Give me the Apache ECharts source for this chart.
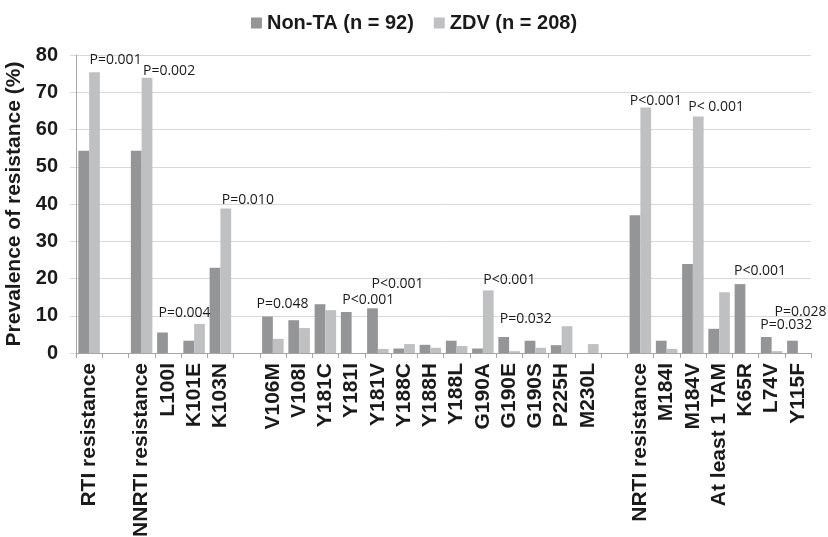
<!DOCTYPE html>
<html>
<head>
<meta charset="utf-8">
<script src="https://cdn.jsdelivr.net/npm/echarts@6/dist/echarts.min.js"></script>
<style>
  html, body { margin: 0; padding: 0; background: #fff; }
  #chart { width: 828px; height: 537px; }
</style>
</head>
<body>
<div id="chart"></div>
<script>
  // categories, blank strings are spacer columns between groups
  const categories = ['RTI resistance', '', 'NNRTI resistance', 'L100I', 'K101E', 'K103N', '',
    'V106M', 'V108I', 'Y181C', 'Y181I', 'Y181V', 'Y188C', 'Y188H', 'Y188L', 'G190A', 'G190E',
    'G190S', 'P225H', 'M230L', '', 'NRTI resistance', 'M184I', 'M184V', 'At least 1 TAM',
    'K65R', 'L74V', 'Y115F'];
  const seriesNames = ['Non-TA (n = 92)', 'ZDV (n = 208)'];
  const nonTA = [54.3, null, 54.3, 5.5, 3.3, 22.9, null, 9.8, 8.8, 13.1, 11.0, 12.0, 1.2, 2.2,
    3.3, 1.2, 4.3, 3.3, 2.1, 0, null, 37.0, 3.3, 23.9, 6.5, 18.5, 4.3, 3.3];
  const zdv = [75.4, null, 73.9, 0, 7.8, 38.8, null, 3.8, 6.7, 11.5, 0, 1.1, 2.4, 1.4,
    1.9, 16.8, 0.5, 1.4, 7.2, 2.4, null, 65.9, 1.1, 63.5, 16.3, 0, 0.5, 0];
  // p-value annotations: [category, series index, text]
  const pLabels = [
    ['RTI resistance', 1, 'P=0.001'],
    ['NNRTI resistance', 1, 'P=0.002'],
    ['L100I', 0, 'P=0.004'],
    ['K103N', 1, 'P=0.010'],
    ['V106M', 0, 'P=0.048'],
    ['Y181I', 0, 'P<0.001'],
    ['Y181V', 0, 'P<0.001'],
    ['G190A', 1, 'P<0.001'],
    ['G190E', 0, 'P=0.032'],
    ['NRTI resistance', 1, 'P<0.001'],
    ['M184V', 1, 'P< 0.001'],
    ['K65R', 0, 'P<0.001'],
    ['L74V', 0, 'P=0.032'],
    ['Y115F', 0, 'P=0.028']
  ];
  // label nudges (px), same order as pLabels
  const labelOffsets = [[-5, 0], [-4, 5], [-4, -7], [-4, 4], [-11, 0], [-4, 0], [-1, -12],
    [-5, 2], [-4, -6], [-16, 5], [-10, 3], [-6, -1], [-6, 0], [-18, -17]];

  const colors = ['#949597', '#bfc0c2'];

  function buildData(values, sIdx) {
    return values.map(function (v, i) {
      let item = { value: v };
      pLabels.forEach(function (p, k) {
        if (p[0] === categories[i] && p[1] === sIdx) {
          item.label = {
            show: true,
            position: 'top',
            align: 'left',
            distance: 5,
            offset: labelOffsets[k],
            formatter: p[2],
            color: '#1a1a1a',
            fontFamily: 'Open Sans',
            fontSize: 14
          };
        }
      });
      return item;
    });
  }

  const chart = echarts.init(document.getElementById('chart'), null, { renderer: 'canvas' });
  chart.setOption({
    animation: false,
    color: colors,
    textStyle: { fontFamily: 'Liberation Sans' },
    legend: {
      top: 8,
      left: 'center',
      icon: 'rect',
      itemWidth: 11,
      itemHeight: 11,
      itemGap: 20,
      textStyle: { fontSize: 20, fontWeight: 'bold', color: '#1a1a1a' },
      data: seriesNames
    },
    grid: {
      left: 76,
      right: 17,
      top: 55,
      bottom: 184,
      containLabel: false,
      outerBoundsMode: 'none'
    },
    xAxis: {
      type: 'category',
      data: categories,
      axisLine: { lineStyle: { color: '#a6a6a6' } },
      axisTick: { show: true, length: 5, lineStyle: { color: '#a6a6a6' } },
      axisLabel: {
        interval: 0,
        rotate: 90,
        margin: 10,
        fontSize: 21,
        fontWeight: 'bold',
        color: '#1a1a1a'
      }
    },
    yAxis: {
      type: 'value',
      min: 0,
      max: 80,
      interval: 10,
      name: 'Prevalence of resistance (%)',
      nameLocation: 'middle',
      nameGap: 43,
      nameTextStyle: { fontSize: 21, fontWeight: 'bold', color: '#1a1a1a' },
      axisLine: { show: true, lineStyle: { color: '#a6a6a6' } },
      axisTick: { show: true, length: 6, lineStyle: { color: '#d9d9d9' } },
      axisLabel: { fontSize: 20, fontWeight: 'bold', color: '#1a1a1a', margin: 18 },
      splitLine: { lineStyle: { color: '#d9d9d9' } }
    },
    series: [{
      name: seriesNames[0],
      type: 'bar',
      barGap: '0%',
      barCategoryGap: '18%',
      data: buildData(nonTA, 0)
    }, {
      name: seriesNames[1],
      type: 'bar',
      barGap: '0%',
      barCategoryGap: '18%',
      data: buildData(zdv, 1)
    }]
  });
</script>
</body>
</html>
